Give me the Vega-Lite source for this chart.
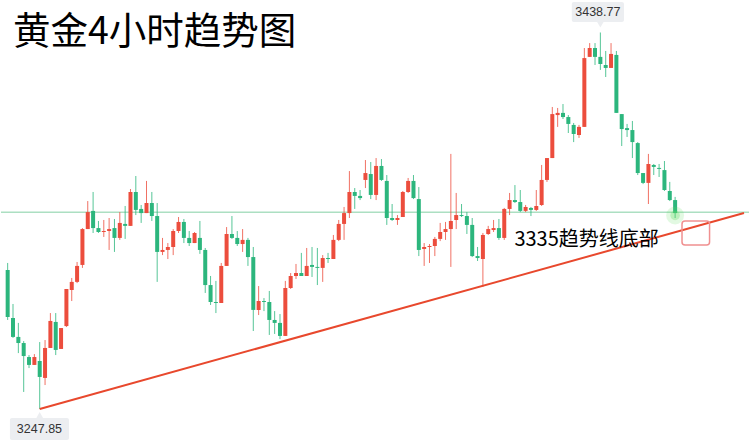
{
"$schema": "https://vega.github.io/schema/vega-lite/v6.json",
"width": 750, "height": 444,
"autosize": {"type": "fit", "contains": "padding"},
"padding": 0,
"background": "#ffffff",
"config": {"view": {"stroke": null}},
"datasets": {
"candles": [
{"i":0,"d":"d","o":3318.3,"h":3321.9,"l":3293.0,"c":3294.5},
{"i":1,"d":"d","o":3294.0,"h":3301.1,"l":3283.9,"c":3284.4},
{"i":2,"d":"d","o":3284.4,"h":3291.5,"l":3276.2,"c":3281.3},
{"i":3,"d":"d","o":3281.3,"h":3282.3,"l":3256.5,"c":3274.7},
{"i":4,"d":"d","o":3274.2,"h":3275.2,"l":3268.6,"c":3270.2},
{"i":5,"d":"u","o":3270.2,"h":3275.7,"l":3270.2,"c":3274.2},
{"i":6,"d":"d","o":3272.2,"h":3281.8,"l":3247.85,"c":3264.1},
{"i":7,"d":"u","o":3263.6,"h":3282.8,"l":3260.0,"c":3278.8},
{"i":8,"d":"u","o":3278.8,"h":3296.5,"l":3278.8,"c":3292.5},
{"i":9,"d":"d","o":3292.0,"h":3296.5,"l":3275.2,"c":3277.8},
{"i":10,"d":"u","o":3278.3,"h":3288.9,"l":3278.3,"c":3288.9},
{"i":11,"d":"u","o":3289.9,"h":3308.7,"l":3289.4,"c":3308.7},
{"i":12,"d":"u","o":3308.2,"h":3314.3,"l":3302.6,"c":3312.3},
{"i":13,"d":"u","o":3312.3,"h":3322.4,"l":3311.7,"c":3320.4},
{"i":14,"d":"u","o":3320.9,"h":3339.6,"l":3319.4,"c":3339.1},
{"i":15,"d":"u","o":3339.1,"h":3353.3,"l":3339.1,"c":3347.7},
{"i":16,"d":"d","o":3348.3,"h":3357.9,"l":3337.1,"c":3339.6},
{"i":17,"d":"d","o":3339.6,"h":3343.2,"l":3337.1,"c":3337.6},
{"i":18,"d":"u","o":3337.6,"h":3343.7,"l":3335.1,"c":3338.1},
{"i":19,"d":"u","o":3338.1,"h":3344.7,"l":3328.5,"c":3339.1},
{"i":20,"d":"d","o":3339.6,"h":3344.2,"l":3327.5,"c":3334.6},
{"i":21,"d":"u","o":3334.6,"h":3347.7,"l":3333.6,"c":3342.2},
{"i":22,"d":"d","o":3341.7,"h":3350.8,"l":3334.1,"c":3340.7},
{"i":23,"d":"u","o":3340.7,"h":3359.4,"l":3340.7,"c":3357.9},
{"i":24,"d":"d","o":3357.9,"h":3366.0,"l":3346.2,"c":3348.8},
{"i":25,"d":"d","o":3349.3,"h":3351.3,"l":3342.2,"c":3347.2},
{"i":26,"d":"u","o":3347.2,"h":3363.5,"l":3347.2,"c":3352.3},
{"i":27,"d":"d","o":3352.3,"h":3357.9,"l":3343.2,"c":3345.7},
{"i":28,"d":"d","o":3345.7,"h":3352.3,"l":3312.3,"c":3327.5},
{"i":29,"d":"u","o":3327.5,"h":3334.6,"l":3325.9,"c":3328.5},
{"i":30,"d":"u","o":3328.5,"h":3332.0,"l":3323.9,"c":3330.0},
{"i":31,"d":"u","o":3330.0,"h":3339.1,"l":3325.9,"c":3338.1},
{"i":32,"d":"u","o":3338.1,"h":3345.2,"l":3337.1,"c":3342.7},
{"i":33,"d":"d","o":3342.7,"h":3344.2,"l":3332.0,"c":3334.6},
{"i":34,"d":"d","o":3334.6,"h":3338.1,"l":3330.5,"c":3332.0},
{"i":35,"d":"u","o":3332.0,"h":3337.6,"l":3332.0,"c":3337.1},
{"i":36,"d":"d","o":3334.6,"h":3343.2,"l":3326.5,"c":3328.5},
{"i":37,"d":"d","o":3328.5,"h":3329.5,"l":3306.7,"c":3310.7},
{"i":38,"d":"d","o":3310.7,"h":3315.3,"l":3300.6,"c":3302.1},
{"i":39,"d":"d","o":3302.1,"h":3312.8,"l":3296.5,"c":3301.6},
{"i":40,"d":"u","o":3301.6,"h":3321.9,"l":3301.6,"c":3320.4},
{"i":41,"d":"u","o":3320.4,"h":3340.1,"l":3320.4,"c":3336.6},
{"i":42,"d":"d","o":3336.6,"h":3345.7,"l":3334.1,"c":3334.6},
{"i":43,"d":"d","o":3334.6,"h":3338.1,"l":3330.5,"c":3331.5},
{"i":44,"d":"u","o":3331.5,"h":3339.1,"l":3327.5,"c":3333.6},
{"i":45,"d":"d","o":3333.6,"h":3334.6,"l":3320.4,"c":3324.9},
{"i":46,"d":"d","o":3324.9,"h":3330.0,"l":3287.4,"c":3298.1},
{"i":47,"d":"u","o":3298.1,"h":3310.2,"l":3295.5,"c":3302.6},
{"i":48,"d":"d","o":3302.6,"h":3304.1,"l":3297.5,"c":3302.1},
{"i":49,"d":"d","o":3302.1,"h":3307.7,"l":3285.4,"c":3293.0},
{"i":50,"d":"d","o":3293.0,"h":3297.5,"l":3285.9,"c":3291.5},
{"i":51,"d":"d","o":3291.5,"h":3296.0,"l":3283.3,"c":3284.9},
{"i":52,"d":"u","o":3284.9,"h":3312.8,"l":3284.9,"c":3309.2},
{"i":53,"d":"u","o":3309.2,"h":3316.8,"l":3308.7,"c":3315.3},
{"i":54,"d":"u","o":3315.3,"h":3321.4,"l":3313.8,"c":3316.8},
{"i":55,"d":"d","o":3316.8,"h":3327.0,"l":3315.3,"c":3315.3},
{"i":56,"d":"u","o":3315.3,"h":3329.5,"l":3315.3,"c":3320.4},
{"i":57,"d":"d","o":3320.9,"h":3330.0,"l":3314.8,"c":3319.9},
{"i":58,"d":"d","o":3319.9,"h":3329.5,"l":3310.7,"c":3319.4},
{"i":59,"d":"u","o":3319.4,"h":3325.9,"l":3312.3,"c":3324.4},
{"i":60,"d":"d","o":3324.4,"h":3327.0,"l":3321.9,"c":3323.9},
{"i":61,"d":"u","o":3323.9,"h":3336.1,"l":3323.9,"c":3333.6},
{"i":62,"d":"u","o":3333.6,"h":3343.7,"l":3333.0,"c":3341.7},
{"i":63,"d":"u","o":3341.7,"h":3350.3,"l":3333.6,"c":3347.2},
{"i":64,"d":"u","o":3347.2,"h":3368.5,"l":3344.7,"c":3357.9},
{"i":65,"d":"d","o":3357.9,"h":3359.9,"l":3349.3,"c":3355.9},
{"i":66,"d":"d","o":3355.9,"h":3358.9,"l":3353.8,"c":3354.8},
{"i":67,"d":"u","o":3364.0,"h":3374.1,"l":3359.9,"c":3367.5},
{"i":68,"d":"d","o":3367.0,"h":3373.1,"l":3354.3,"c":3356.4},
{"i":69,"d":"u","o":3356.4,"h":3375.1,"l":3353.8,"c":3371.1},
{"i":70,"d":"d","o":3371.1,"h":3374.6,"l":3363.5,"c":3364.0},
{"i":71,"d":"d","o":3363.5,"h":3366.5,"l":3341.2,"c":3344.7},
{"i":72,"d":"d","o":3344.7,"h":3351.8,"l":3343.2,"c":3343.7},
{"i":73,"d":"u","o":3343.7,"h":3346.2,"l":3341.2,"c":3344.7},
{"i":74,"d":"u","o":3345.2,"h":3358.4,"l":3345.2,"c":3357.9},
{"i":75,"d":"u","o":3357.9,"h":3365.0,"l":3357.4,"c":3363.5},
{"i":76,"d":"d","o":3363.5,"h":3366.5,"l":3354.3,"c":3354.8},
{"i":77,"d":"d","o":3354.3,"h":3360.4,"l":3325.4,"c":3328.5},
{"i":78,"d":"u","o":3329.0,"h":3332.0,"l":3320.4,"c":3330.0},
{"i":79,"d":"u","o":3330.0,"h":3331.5,"l":3321.9,"c":3330.5},
{"i":80,"d":"u","o":3330.5,"h":3335.1,"l":3325.4,"c":3334.1},
{"i":81,"d":"u","o":3334.1,"h":3342.2,"l":3333.0,"c":3337.6},
{"i":82,"d":"u","o":3337.6,"h":3342.7,"l":3333.6,"c":3339.1},
{"i":83,"d":"u","o":3339.1,"h":3377.2,"l":3319.9,"c":3343.2},
{"i":84,"d":"u","o":3343.7,"h":3357.4,"l":3339.1,"c":3346.2},
{"i":85,"d":"d","o":3346.2,"h":3351.8,"l":3345.2,"c":3345.7},
{"i":86,"d":"d","o":3345.7,"h":3347.7,"l":3336.6,"c":3341.2},
{"i":87,"d":"d","o":3341.2,"h":3344.7,"l":3324.9,"c":3325.4},
{"i":88,"d":"d","o":3325.4,"h":3330.0,"l":3322.9,"c":3324.4},
{"i":89,"d":"u","o":3323.9,"h":3337.1,"l":3309.7,"c":3336.1},
{"i":90,"d":"u","o":3336.6,"h":3340.7,"l":3336.1,"c":3339.1},
{"i":91,"d":"u","o":3338.6,"h":3343.7,"l":3337.6,"c":3339.6},
{"i":92,"d":"d","o":3339.6,"h":3344.2,"l":3333.6,"c":3334.6},
{"i":93,"d":"u","o":3334.6,"h":3349.8,"l":3333.6,"c":3349.3},
{"i":94,"d":"u","o":3349.3,"h":3357.4,"l":3346.2,"c":3353.8},
{"i":95,"d":"d","o":3353.8,"h":3361.4,"l":3352.3,"c":3352.8},
{"i":96,"d":"d","o":3352.8,"h":3358.9,"l":3347.7,"c":3348.3},
{"i":97,"d":"u","o":3348.3,"h":3351.3,"l":3347.7,"c":3350.3},
{"i":98,"d":"d","o":3349.8,"h":3350.3,"l":3345.7,"c":3348.8},
{"i":99,"d":"u","o":3348.8,"h":3358.9,"l":3348.3,"c":3350.8},
{"i":100,"d":"u","o":3351.3,"h":3371.6,"l":3350.8,"c":3364.0},
{"i":101,"d":"u","o":3364.0,"h":3375.1,"l":3363.0,"c":3375.1},
{"i":102,"d":"u","o":3375.1,"h":3401.0,"l":3375.1,"c":3397.4},
{"i":103,"d":"u","o":3396.9,"h":3400.5,"l":3390.9,"c":3398.0},
{"i":104,"d":"d","o":3398.0,"h":3402.5,"l":3394.9,"c":3395.9},
{"i":105,"d":"d","o":3395.9,"h":3396.9,"l":3387.8,"c":3392.4},
{"i":106,"d":"d","o":3391.9,"h":3392.9,"l":3383.2,"c":3387.3},
{"i":107,"d":"u","o":3386.8,"h":3391.9,"l":3385.3,"c":3390.9},
{"i":108,"d":"u","o":3390.9,"h":3430.9,"l":3390.9,"c":3425.8},
{"i":109,"d":"u","o":3426.4,"h":3433.4,"l":3426.4,"c":3430.9},
{"i":110,"d":"d","o":3430.9,"h":3433.4,"l":3422.3,"c":3426.4},
{"i":111,"d":"d","o":3426.4,"h":3438.77,"l":3419.8,"c":3422.8},
{"i":112,"d":"d","o":3422.3,"h":3429.4,"l":3416.2,"c":3420.8},
{"i":113,"d":"u","o":3420.8,"h":3433.4,"l":3420.8,"c":3427.9},
{"i":114,"d":"d","o":3427.4,"h":3429.4,"l":3398.0,"c":3398.0},
{"i":115,"d":"d","o":3397.4,"h":3397.4,"l":3381.2,"c":3389.8},
{"i":116,"d":"d","o":3390.3,"h":3392.4,"l":3385.8,"c":3389.3},
{"i":117,"d":"d","o":3389.3,"h":3393.9,"l":3375.1,"c":3383.2},
{"i":118,"d":"d","o":3382.7,"h":3383.2,"l":3366.5,"c":3367.5},
{"i":119,"d":"d","o":3367.5,"h":3367.5,"l":3361.9,"c":3362.5},
{"i":120,"d":"u","o":3362.5,"h":3377.2,"l":3351.8,"c":3372.1},
{"i":121,"d":"d","o":3371.6,"h":3372.1,"l":3366.5,"c":3370.6},
{"i":122,"d":"d","o":3370.1,"h":3372.1,"l":3365.5,"c":3369.6},
{"i":123,"d":"d","o":3369.0,"h":3373.6,"l":3358.4,"c":3358.9},
{"i":124,"d":"d","o":3358.4,"h":3363.0,"l":3353.3,"c":3353.8},
{"i":125,"d":"d","o":3353.8,"h":3355.4,"l":3344.7,"c":3347.2}
],
"trend": [{"i": 6, "p": 3247.85}, {"i": 137.9, "p": 3347.2}],
"level": [{"p": 3347.6}],
"glow": [{"i": 125, "p": 3346.0}],
"boxes": [
{"x1": 105.65, "x2": 115.42, "y1": 3454.2, "y2": 3444.1},
{"x1": 0.42, "x2": 11.48, "y1": 3243.3, "y2": 3232.1}
],
"arrows": [
{"i": 111, "p": 3442.8, "s": "triangle-down"},
{"i": 6, "p": 3244.8, "s": "triangle-up"}
],
"tags": [
{"i": 110.53, "p": 3449.2, "t": "3438.77"},
{"i": 5.95, "p": 3237.7, "t": "3247.85"}
],
"zone": [{"x1": 126.29, "x2": 131.45, "y1": 3343.2, "y2": 3331.0}],
"note": [{"i": 94.9, "p": 3330.75, "t": "3335趋势线底部"}],
"heading": [{"i": 0.98, "p": 3432.9, "t": "黄金4小时趋势图"}]
},
"layer": [
{"data": {"name": "level"},
 "mark": {"type": "rule", "color": "#acdfc2", "strokeWidth": 1.5},
 "encoding": {"y": {"field": "p", "type": "quantitative", "scale": {"domain": [3230.1, 3455.25], "nice": false, "zero": false}, "axis": null}}},
{"data": {"name": "candles"},
 "mark": {"type": "rule", "strokeWidth": 1, "opacity": 0.8},
 "encoding": {
  "x": {"field": "i", "type": "quantitative", "scale": {"domain": [-0.313, 137.9], "nice": false, "zero": false}, "axis": null},
  "y": {"field": "l", "type": "quantitative", "scale": {"domain": [3230.1, 3455.25], "nice": false, "zero": false}, "axis": null},
  "y2": {"field": "h"},
  "color": {"field": "d", "type": "nominal", "scale": {"domain": ["u", "d"], "range": ["#ec4d3d", "#2cb67d"]}, "legend": null}}},
{"data": {"name": "candles"},
 "mark": {"type": "bar", "size": 4},
 "encoding": {
  "x": {"field": "i", "type": "quantitative", "scale": {"domain": [-0.313, 137.9], "nice": false, "zero": false}, "axis": null},
  "y": {"field": "o", "type": "quantitative", "scale": {"domain": [3230.1, 3455.25], "nice": false, "zero": false}, "axis": null},
  "y2": {"field": "c"},
  "color": {"field": "d", "type": "nominal", "scale": {"domain": ["u", "d"], "range": ["#ec4d3d", "#2cb67d"]}, "legend": null}}},
{"data": {"name": "glow"},
 "mark": {"type": "circle", "size": 320, "color": "#5fdc5f", "opacity": 0.18},
 "encoding": {
  "x": {"field": "i", "type": "quantitative", "scale": {"domain": [-0.313, 137.9], "nice": false, "zero": false}, "axis": null},
  "y": {"field": "p", "type": "quantitative", "scale": {"domain": [3230.1, 3455.25], "nice": false, "zero": false}, "axis": null}}},
{"data": {"name": "glow"},
 "mark": {"type": "circle", "size": 90, "color": "#5fdc5f", "opacity": 0.3},
 "encoding": {
  "x": {"field": "i", "type": "quantitative", "scale": {"domain": [-0.313, 137.9], "nice": false, "zero": false}, "axis": null},
  "y": {"field": "p", "type": "quantitative", "scale": {"domain": [3230.1, 3455.25], "nice": false, "zero": false}, "axis": null}}},
{"data": {"name": "trend"},
 "mark": {"type": "line", "color": "#e8482d", "strokeWidth": 2},
 "encoding": {
  "x": {"field": "i", "type": "quantitative", "scale": {"domain": [-0.313, 137.9], "nice": false, "zero": false}, "axis": null},
  "y": {"field": "p", "type": "quantitative", "scale": {"domain": [3230.1, 3455.25], "nice": false, "zero": false}, "axis": null}}},
{"data": {"name": "zone"},
 "mark": {"type": "rect", "fill": "#ffffff", "fillOpacity": 0, "stroke": "#f09090", "strokeWidth": 1.5, "cornerRadius": 3},
 "encoding": {
  "x": {"field": "x1", "type": "quantitative", "scale": {"domain": [-0.313, 137.9], "nice": false, "zero": false}, "axis": null},
  "x2": {"field": "x2"},
  "y": {"field": "y1", "type": "quantitative", "scale": {"domain": [3230.1, 3455.25], "nice": false, "zero": false}, "axis": null},
  "y2": {"field": "y2"}}},
{"data": {"name": "boxes"},
 "mark": {"type": "rect", "color": "#eceef1", "cornerRadius": 2},
 "encoding": {
  "x": {"field": "x1", "type": "quantitative", "scale": {"domain": [-0.313, 137.9], "nice": false, "zero": false}, "axis": null},
  "x2": {"field": "x2"},
  "y": {"field": "y1", "type": "quantitative", "scale": {"domain": [3230.1, 3455.25], "nice": false, "zero": false}, "axis": null},
  "y2": {"field": "y2"}}},
{"data": {"name": "arrows"},
 "mark": {"type": "point", "filled": true, "size": 45, "color": "#eceef1", "opacity": 1},
 "encoding": {
  "x": {"field": "i", "type": "quantitative", "scale": {"domain": [-0.313, 137.9], "nice": false, "zero": false}, "axis": null},
  "y": {"field": "p", "type": "quantitative", "scale": {"domain": [3230.1, 3455.25], "nice": false, "zero": false}, "axis": null},
  "shape": {"field": "s", "type": "nominal", "scale": {"domain": ["triangle-down", "triangle-up"], "range": ["triangle-down", "triangle-up"]}, "legend": null}}},
{"data": {"name": "tags"},
 "mark": {"type": "text", "font": "Liberation Sans", "fontSize": 12.5, "color": "#333333", "align": "center", "baseline": "middle"},
 "encoding": {
  "x": {"field": "i", "type": "quantitative", "scale": {"domain": [-0.313, 137.9], "nice": false, "zero": false}, "axis": null},
  "y": {"field": "p", "type": "quantitative", "scale": {"domain": [3230.1, 3455.25], "nice": false, "zero": false}, "axis": null},
  "text": {"field": "t"}}},
{"data": {"name": "note"},
 "mark": {"type": "text", "font": "Noto Sans CJK SC", "fontSize": 20, "color": "#000000", "align": "left", "baseline": "alphabetic"},
 "encoding": {
  "x": {"field": "i", "type": "quantitative", "scale": {"domain": [-0.313, 137.9], "nice": false, "zero": false}, "axis": null},
  "y": {"field": "p", "type": "quantitative", "scale": {"domain": [3230.1, 3455.25], "nice": false, "zero": false}, "axis": null},
  "text": {"field": "t"}}},
{"data": {"name": "heading"},
 "mark": {"type": "text", "font": "Noto Sans CJK SC", "fontSize": 37.5, "color": "#000000", "align": "left", "baseline": "alphabetic"},
 "encoding": {
  "x": {"field": "i", "type": "quantitative", "scale": {"domain": [-0.313, 137.9], "nice": false, "zero": false}, "axis": null},
  "y": {"field": "p", "type": "quantitative", "scale": {"domain": [3230.1, 3455.25], "nice": false, "zero": false}, "axis": null},
  "text": {"field": "t"}}}
]
}
